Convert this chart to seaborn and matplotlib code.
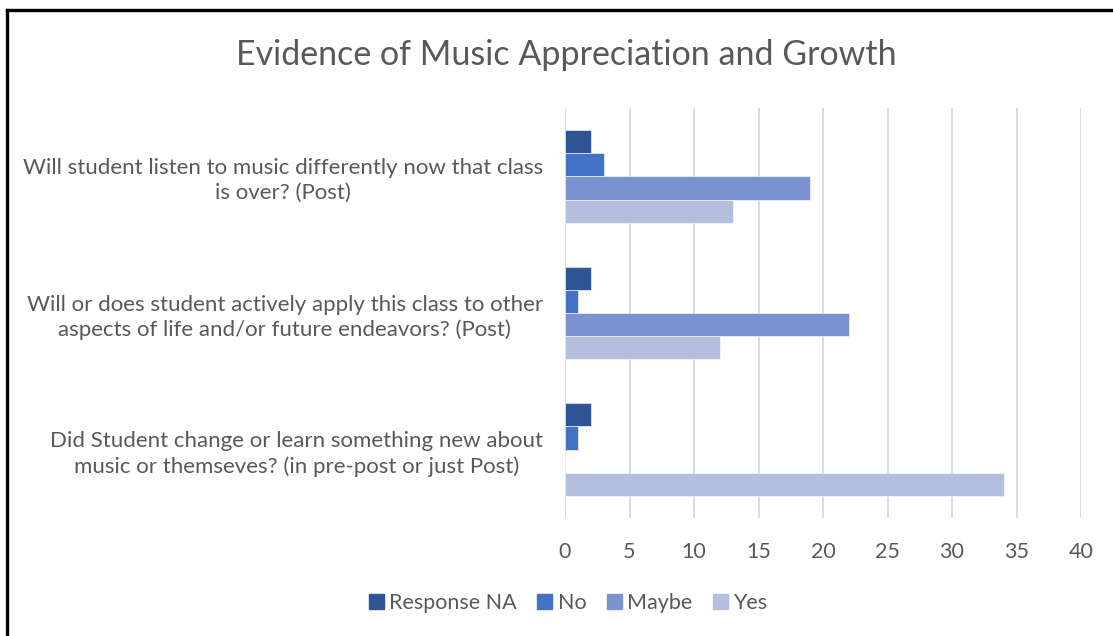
import matplotlib
matplotlib.use("Agg")
import matplotlib.pyplot as plt
import seaborn as sns
import pandas as pd
from matplotlib.lines import Line2D

questions = [
    "Will student listen to music differently now that class\nis over? (Post)",
    "Will or does student actively apply this class to other\naspects of life and/or future endeavors? (Post)",
    "Did Student change or learn something new about\nmusic or themseves? (in pre-post or just Post)",
]
series = ["Response NA", "No", "Maybe", "Yes"]
response_na = [2, 2, 2]
no = [3, 1, 1]
maybe = [19, 22, 0]
yes = [13, 12, 34]
colors = ["#2F5597", "#4472C4", "#7A92CF", "#B4BFE0"]
xticks = [0, 5, 10, 15, 20, 25, 30, 35, 40]

rows = []
for s, vals in zip(series, [response_na, no, maybe, yes]):
    for q, v in zip(questions, vals):
        rows.append({"Question": q, "Series": s, "Count": v})
df = pd.DataFrame(rows)

sns.set_theme(style="white")
plt.rcParams["font.family"] = ["Lato", "DejaVu Sans"]
TXT = "#595959"

fig = plt.figure(figsize=(11.13, 6.36), dpi=100)
ax = fig.add_axes([565 / 1113, 1 - 518 / 636, (1081 - 565) / 1113, (518 - 108) / 636])

sns.barplot(data=df, y="Question", x="Count", hue="Series", hue_order=series,
            order=questions, palette=colors, saturation=1, orient="h", width=0.68, gap=0,
            edgecolor="white", linewidth=0.4, ax=ax, legend=True)

ax.set_xlim(0, 40)
ax.set_xticks(xticks)
ax.set_xticklabels([str(t) for t in xticks])
ax.set_xlabel("")
ax.set_ylabel("")
ax.grid(axis="x", color="#D9D9D9", linewidth=1.3)
ax.grid(axis="y", visible=False)
ax.set_axisbelow(True)
for sp in ax.spines.values():
    sp.set_visible(False)
ax.tick_params(axis="y", length=0, pad=16, labelsize=16, labelcolor=TXT)
ax.tick_params(axis="x", length=0, pad=17, labelsize=15.5, labelcolor=TXT)
for lab in ax.get_yticklabels():
    lab.set_multialignment("center")
    lab.set_linespacing(1.3)

handles = [plt.Rectangle((0, 0), 1, 1, color=c) for c in colors]
ax.get_legend().remove()
fig.legend(handles, series, loc="center", bbox_to_anchor=(568 / 1113, 1 - 603 / 636),
           ncol=4, frameon=False, fontsize=15.5, labelcolor=TXT,
           handlelength=0.7, handleheight=0.7, handletextpad=0.25, columnspacing=0.95)

fig.text(566 / 1113, 1 - 55 / 636, "Evidence of Music Appreciation and Growth",
         ha="center", va="center", fontsize=24.5, color=TXT)

# chart frame
fig.add_artist(Line2D([7 / 1113, 7 / 1113], [0, 1 - 10 / 636], transform=fig.transFigure,
                      color="black", linewidth=2.4, solid_capstyle="projecting"))
fig.add_artist(Line2D([7 / 1113, 1], [1 - 10 / 636, 1 - 10 / 636], transform=fig.transFigure,
                      color="black", linewidth=2.4, solid_capstyle="projecting"))

fig.savefig("out.png", dpi=100)
